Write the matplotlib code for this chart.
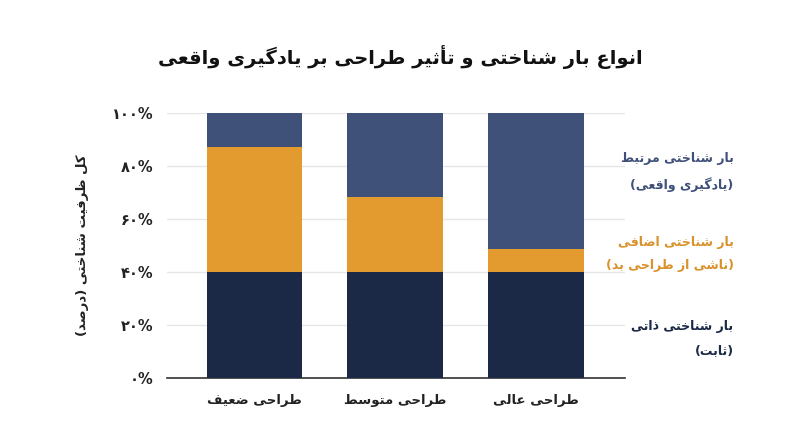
import matplotlib
matplotlib.use("Agg")
import matplotlib.pyplot as plt
import numpy as np

# Data
categories = ["طراحی ضعیف", "طراحی متوسط", "طراحی عالی"]
intrinsic = [40, 40, 40]
extraneous = [47, 28, 8.5]
germane = [13, 32, 51.5]
tick_values = [0, 20, 40, 60, 80, 100]
tick_labels = ["۰%", "۲۰%", "۴۰%", "۶۰%", "۸۰%", "۱۰۰%"]
series_labels = [
    "بار شناختی مرتبط\n(یادگیری واقعی)",
    "بار شناختی اضافی\n(ناشی از طراحی بد)",
    "بار شناختی ذاتی\n(ثابت)",
]
title = "انواع بار شناختی و تأثیر طراحی بر یادگیری واقعی"
ylabel = "کل ظرفیت شناختی (درصد)"

C_INTR = "#1b2846"
C_EXTR = "#e39b2f"
C_GERM = "#3f5079"

# --- minimal Arabic/Persian shaping (matplotlib has no complex text layout)
FORMS = {  # isolated, final, initial, medial
    "ا": ("\uFE8D", "\uFE8E"), "أ": ("\uFE83", "\uFE84"),
    "ب": ("\uFE8F", "\uFE90", "\uFE91", "\uFE92"),
    "ت": ("\uFE95", "\uFE96", "\uFE97", "\uFE98"),
    "ث": ("\uFE99", "\uFE9A", "\uFE9B", "\uFE9C"),
    "ح": ("\uFEA1", "\uFEA2", "\uFEA3", "\uFEA4"),
    "خ": ("\uFEA5", "\uFEA6", "\uFEA7", "\uFEA8"),
    "د": ("\uFEA9", "\uFEAA"), "ذ": ("\uFEAB", "\uFEAC"),
    "ر": ("\uFEAD", "\uFEAE"), "ز": ("\uFEAF", "\uFEB0"),
    "س": ("\uFEB1", "\uFEB2", "\uFEB3", "\uFEB4"),
    "ش": ("\uFEB5", "\uFEB6", "\uFEB7", "\uFEB8"),
    "ص": ("\uFEB9", "\uFEBA", "\uFEBB", "\uFEBC"),
    "ض": ("\uFEBD", "\uFEBE", "\uFEBF", "\uFEC0"),
    "ط": ("\uFEC1", "\uFEC2", "\uFEC3", "\uFEC4"),
    "ظ": ("\uFEC5", "\uFEC6", "\uFEC7", "\uFEC8"),
    "ع": ("\uFEC9", "\uFECA", "\uFECB", "\uFECC"),
    "ف": ("\uFED1", "\uFED2", "\uFED3", "\uFED4"),
    "ق": ("\uFED5", "\uFED6", "\uFED7", "\uFED8"),
    "ل": ("\uFEDD", "\uFEDE", "\uFEDF", "\uFEE0"),
    "م": ("\uFEE1", "\uFEE2", "\uFEE3", "\uFEE4"),
    "ن": ("\uFEE5", "\uFEE6", "\uFEE7", "\uFEE8"),
    "و": ("\uFEED", "\uFEEE"),
    "ی": ("\uFBFC", "\uFBFD", "\uFBFE", "\uFBFF"),
    "ک": ("\uFB8E", "\uFB8F", "\uFB90", "\uFB91"),
    "گ": ("\uFB92", "\uFB93", "\uFB94", "\uFB95"),
}
MIRROR = {"(": ")", ")": "("}


def shape_line(s):
    out = []
    for i, ch in enumerate(s):
        f = FORMS.get(ch)
        if f is None:
            out.append(MIRROR.get(ch, ch))
            continue
        prev = s[i - 1] if i > 0 else ""
        nxt = s[i + 1] if i + 1 < len(s) else ""
        jp = prev in FORMS and len(FORMS[prev]) == 4
        jn = len(f) == 4 and nxt in FORMS
        if jp and jn:
            out.append(f[3])
        elif jp:
            out.append(f[1])
        elif jn:
            out.append(f[2])
        else:
            out.append(f[0])
    return "".join(reversed(out))


def fa(s):
    return "\n".join(shape_line(line) for line in s.split("\n"))


plt.rcParams["font.family"] = ["DejaVu Sans"]

fig = plt.figure(figsize=(8, 4.47), dpi=100)
ax = fig.add_axes([0.209, 0.155, 0.572, 0.593])

x = np.arange(len(categories))
w = 0.68
ax.bar(x, intrinsic, w, color=C_INTR, zorder=3)
ax.bar(x, extraneous, w, bottom=intrinsic, color=C_EXTR, zorder=3)
ax.bar(x, germane, w, bottom=np.add(intrinsic, extraneous), color=C_GERM, zorder=3)

ax.set_xlim(-0.62, 2.63)
ax.set_ylim(0, 100)
ax.set_yticks(tick_values)
ax.set_yticklabels(tick_labels, fontsize=10.5, fontweight="bold", color="#222222")
ax.set_xticks(x)
ax.set_xticklabels([fa(c) for c in categories], fontsize=9.5, fontweight="bold", color="#222222")
ax.tick_params(axis="y", length=0, pad=10)
ax.tick_params(axis="x", length=0, pad=12)
ax.grid(axis="y", color="#e6e6e6", linewidth=1, zorder=0)
for side in ["top", "right", "left"]:
    ax.spines[side].set_visible(False)
ax.spines["bottom"].set_color("#333333")
ax.spines["bottom"].set_linewidth(1.2)

ax.set_ylabel(fa(ylabel), fontsize=9.5, fontweight="bold", color="#222222", labelpad=16)

fig.text(0.5, 0.872, fa(title), ha="center", va="center", fontsize=14,
         fontweight="bold", color="#111111")

label_colors = [C_GERM, "#d9912b", C_INTR]
label_y = [0.615, 0.432, 0.243]
for txt, col, yy in zip(series_labels, label_colors, label_y):
    fig.text(0.917, yy, fa(txt), ha="right", va="center", ma="right",
             fontsize=9, fontweight="bold", color=col, linespacing=2.05)

fig.savefig("out.png", dpi=100)
